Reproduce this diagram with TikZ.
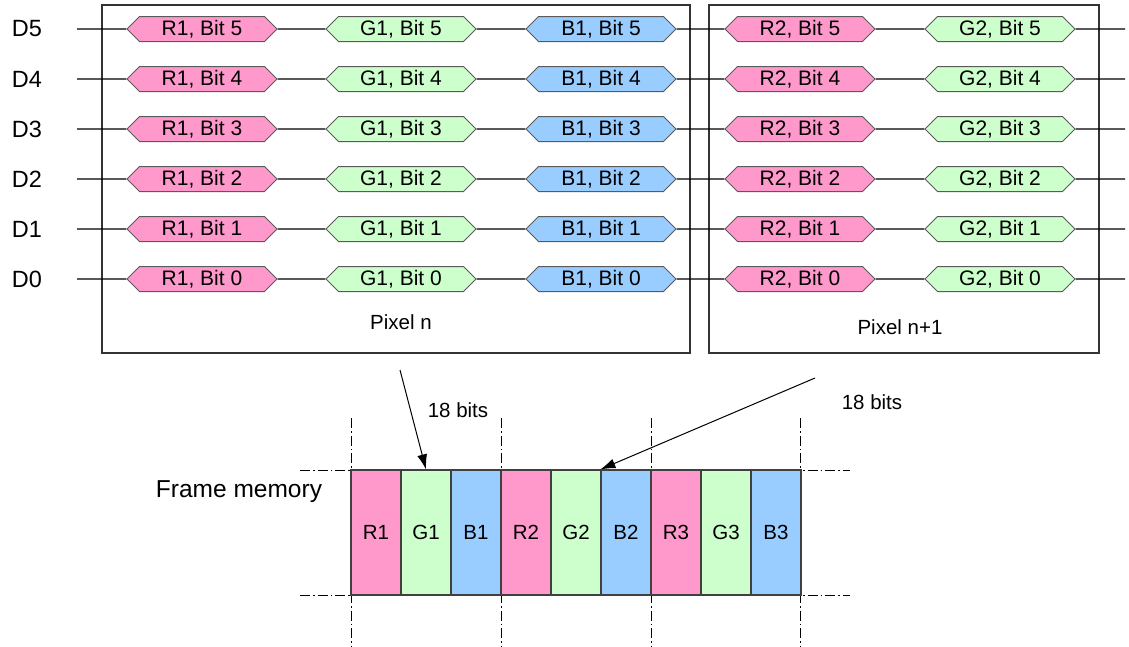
\documentclass[tikz,border=0pt]{standalone}
\usepackage{fontspec}
\setmainfont{Liberation Sans}
\usetikzlibrary{shapes.symbols,arrows.meta}
\definecolor{pinkR}{HTML}{FF99CC}
\definecolor{greenG}{HTML}{CCFFCC}
\definecolor{blueB}{HTML}{99CCFF}
\definecolor{edgegray}{HTML}{5A5A5A}
\tikzset{
  bitbox/.style={shape=signal, signal to=east and west, signal pointer angle=90,
    draw=edgegray, line width=1pt, minimum width=150pt, minimum height=25pt,
    inner sep=0pt, font=\fontsize{21}{25}\selectfont},
  cell/.style={draw=black!75, line width=1.2pt, minimum width=50pt, minimum height=125pt, inner sep=0pt},
  dashdot/.style={dash pattern=on 10pt off 3pt on 1.5pt off 3pt, line width=1pt},
  pixbox/.style={draw=black!80, line width=1.4pt},
  bus/.style={line width=1.1pt},
}

\begin{document}
\begin{tikzpicture}[x=1pt,y=-1pt,>={Latex[length=15pt,width=10pt]},
  font=\fontsize{20.5}{24}\selectfont]
\useasboundingbox (0,0) rectangle (1129,646);
% pixel frames
\draw[pixbox] (102,5) rectangle (690,353);
\draw[pixbox] (709,5) rectangle (1099,353);
\node (pixn) at (401,322) {Pixel n};
\node (pixm) at (900,327) {Pixel n+1};
% data bus D0..D5
\foreach \b in {0,...,5}{
  \pgfmathsetmacro{\y}{279-50*\b}
  \node[font=\fontsize{23.5}{28}\selectfont] (d\b) at (27,\y) {D\b};
  \coordinate (s\b) at (77,\y);
  \coordinate (e\b) at (1125,\y);
  \node[bitbox,fill=pinkR] (ra\b) at (202,\y) {R1, Bit \b};
  \node[bitbox,fill=greenG] (ga\b) at (401,\y) {G1, Bit \b};
  \node[bitbox,fill=blueB] (ba\b) at (601,\y) {B1, Bit \b};
  \node[bitbox,fill=pinkR] (rb\b) at (800,\y) {R2, Bit \b};
  \node[bitbox,fill=greenG] (gb\b) at (1000,\y) {G2, Bit \b};
  \draw[bus] (s\b) -- (ra\b) -- (ga\b) -- (ba\b) -- (rb\b) -- (gb\b) -- (e\b);
}
% frame memory
\node[font=\fontsize{24.5}{29}\selectfont] (fm) at (239,492) {Frame memory};
\foreach \x in {351,501,651,800} \draw[dashdot] (\x,418) -- (\x,646);
\draw[dashdot] (300,470) -- (850,470);
\draw[dashdot] (300,595) -- (850,595);
\foreach \t/\c [count=\i] in {R1/pinkR,G1/greenG,B1/blueB,R2/pinkR,G2/greenG,B2/blueB,R3/pinkR,G3/greenG,B3/blueB}
  \node[cell,fill=\c] (c\i) at (326+50*\i,532.5) {\t};
\coordinate (a1) at (400,370);
\coordinate (a2) at (815,378);
\draw[->,line width=1pt] (a1) -- (c2.north);
\draw[->,line width=1pt] (a2) -- (c6.north west);
\node (bits1) at (458,410) {18 bits};
\node (bits2) at (872,402) {18 bits};
\end{tikzpicture}
\end{document}
